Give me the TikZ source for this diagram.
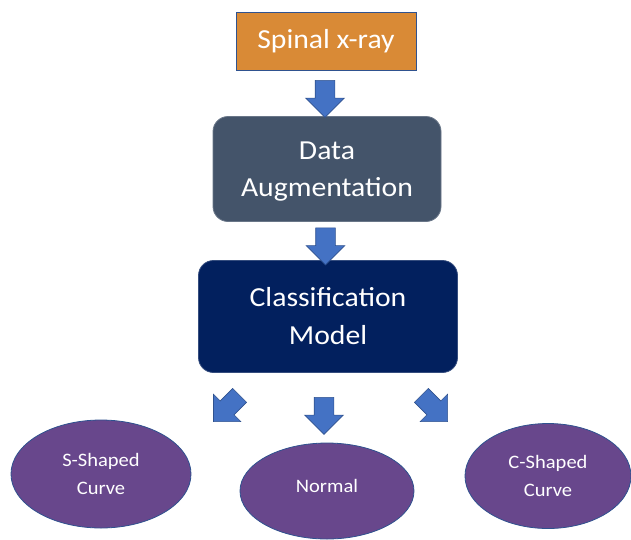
\documentclass[tikz,border=0pt]{standalone}
\usepackage{fontspec}
\setmainfont{Carlito}[FakeStretch=1.08]
\usetikzlibrary{shapes.arrows,shapes.geometric}
\definecolor{xorange}{HTML}{D98A36}
\definecolor{xslate}{HTML}{44546A}
\definecolor{xnavy}{HTML}{02205E}
\definecolor{xpurple}{HTML}{68478C}
\definecolor{xblue}{HTML}{4472C4}
\definecolor{xborder}{HTML}{2F528F}
\tikzset{
  boxbase/.style={draw=xborder, line width=0.8pt, text=white, align=center, inner sep=0pt},
  orangebox/.style={boxbase, fill=xorange, minimum width=180pt, minimum height=58pt, font=\fontsize{27.5}{30}\selectfont},
  slatebox/.style={boxbase, fill=xslate, draw=xslate!80!white, rounded corners=15pt, minimum width=228pt, minimum height=105pt, font=\fontsize{27.5}{37}\selectfont},
  navybox/.style={boxbase, fill=xnavy, draw=xnavy!80!white, rounded corners=15pt, minimum width=259pt, minimum height=112pt, font=\fontsize{27.5}{38}\selectfont},
  classell/.style={ellipse, draw=xborder, line width=0.8pt, fill=xpurple, text=white, align=center, inner sep=0pt, font=\fontsize{19}{28}\selectfont},
  blockarrow/.style={single arrow, draw=xborder, line width=0.6pt, fill=xblue, inner sep=9.5pt, single arrow head extend=9.5pt, minimum height=37pt, single arrow head indent=0pt}
}
\begin{document}
\begin{tikzpicture}[x=1pt,y=-1pt]
\useasboundingbox (0,0) rectangle (631,539);
\node[orangebox] (xray) at (326,41) {Spinal x-ray};
\node[slatebox] (aug) at (327,169) {\raisebox{-3pt}[\height][\depth]{Data}\\\raisebox{-3pt}[\height][\depth]{Augmentation}};
\node[navybox] (cls) at (328,316.5) {Classification\\Model};
\node[classell, minimum width=180pt, minimum height=108pt] (sshape) at (101,474) {S-Shaped\\Curve};
\node[classell, minimum width=174pt, minimum height=96pt] (normal) at (327,491) {\raisebox{5pt}[\height][\depth]{Normal}};
\node[classell, minimum width=166pt, minimum height=105pt] (cshape) at (548,476) {C-Shaped\\Curve};
\node[blockarrow, shape border rotate=270] (a1) at (325,94) {};
\node[blockarrow, shape border rotate=270] (a2) at (325.5,241.5) {};
\node[blockarrow, shape border rotate=270] (a3) at (324,411) {};
\node[blockarrow, rotate=225] (a4) at (230,405) {};
\node[blockarrow, rotate=315] (a5) at (431,405) {};
\end{tikzpicture}
\end{document}
